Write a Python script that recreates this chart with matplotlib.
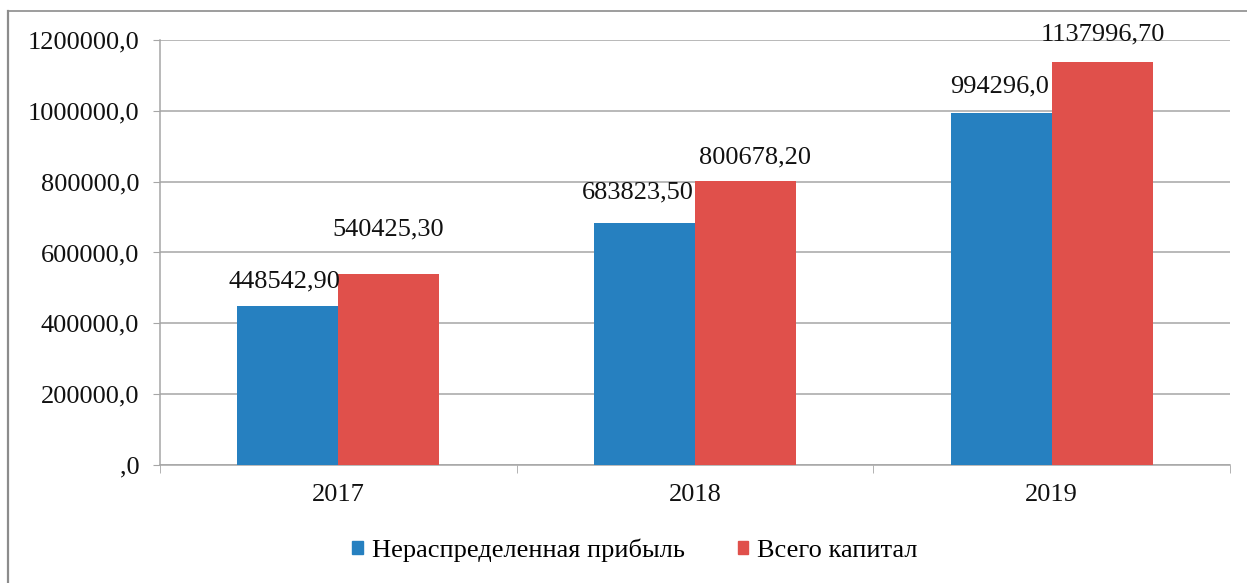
import numpy as np
import matplotlib
matplotlib.use('Agg')
import matplotlib.pyplot as plt
from matplotlib.lines import Line2D
from matplotlib.patches import Patch
from matplotlib.ticker import FuncFormatter

# data
years = ['2017', '2018', '2019']
retained = [448542.90, 683823.50, 994296.0]
capital = [540425.30, 800678.20, 1137996.70]
retained_labels = ['448542,90', '683823,50', '994296,0']
capital_labels = ['540425,30', '800678,20', '1137996,70']
series_names = ['Нераспределенная прибыль', 'Всего капитал']

BLUE = '#2680c0'
RED = '#e0504b'
GRID = '#a6a6a6'
FONT = ['Liberation Serif', 'DejaVu Serif']
W, H = 1247, 583

plt.rcParams['font.family'] = 'serif'
plt.rcParams['font.serif'] = FONT

fig = plt.figure(figsize=(W / 100, H / 100), dpi=100)
ax = fig.add_axes([160 / W, 1 - 465 / H, (1230 - 160) / W, (465 - 40) / H])

x = np.arange(len(years))
bw = 0.283
b1 = ax.bar(x - bw / 2, retained, bw, color=BLUE, zorder=3)
b2 = ax.bar(x + bw / 2, capital, bw, color=RED, zorder=3)

# label offsets in pixels (dx, dy) as placed in the original
off1 = [(-3, 25), (-7, 30), (-2, 26)]
off2 = [(-1, 44), (10, 24), (1, 28)]
for bars, labels, offs in ((b1, retained_labels, off1), (b2, capital_labels, off2)):
    for rect, lab, (dx, dy) in zip(bars, labels, offs):
        ax.annotate(lab, (rect.get_x() + rect.get_width() / 2, rect.get_height()),
                    xytext=(dx * 0.72, dy * 0.72), textcoords='offset points',
                    ha='center', va='center', fontsize=19, color='#111111',
                    family=FONT, zorder=4)

ax.set_xlim(-0.5, len(years) - 0.5)
ax.set_ylim(0, 1200000)
ax.set_yticks(np.arange(0, 1200001, 200000))


def yfmt(v, pos):
    s = f"{v:.1f}".replace('.', ',')
    return s[1:] if s.startswith('0,') else s


ax.yaxis.set_major_formatter(FuncFormatter(yfmt))
ax.set_xticks(x)
ax.set_xticklabels(years)
ax.set_xticks(np.arange(-0.5, len(years)), minor=True)
ax.tick_params(axis='x', which='major', length=0, pad=14, labelsize=19)
ax.tick_params(axis='x', which='minor', length=6, color=GRID, direction='out')
ax.tick_params(axis='y', length=5, color=GRID, pad=10, labelsize=19)
for lab in ax.get_xticklabels() + ax.get_yticklabels():
    lab.set_color('#111111')
    lab.set_family(FONT)

ax.yaxis.grid(True, color=GRID, linewidth=1.1, zorder=0)
for s in ('top', 'right'):
    ax.spines[s].set_visible(False)
for s in ('left', 'bottom'):
    ax.spines[s].set_color(GRID)
    ax.spines[s].set_linewidth(1.1)

handles = [Patch(color=BLUE), Patch(color=RED)]
fig.legend(handles, series_names, loc='center', bbox_to_anchor=(635 / W, 1 - 550 / H),
           ncol=2, frameon=False, prop={'family': FONT, 'size': 19},
           handlelength=0.4, handleheight=0.4, handletextpad=0.35, columnspacing=2.0)

# outer frame (cropped on right and bottom)
fig.add_artist(Line2D([7.5 / W, 7.5 / W], [0, 1 - 11 / H], color='#8c8c8c', linewidth=1.6,
                      transform=fig.transFigure))
fig.add_artist(Line2D([7.5 / W, 1], [1 - 11 / H, 1 - 11 / H], color='#8c8c8c', linewidth=1.2,
                      transform=fig.transFigure))

fig.savefig('out.png', dpi=100)
